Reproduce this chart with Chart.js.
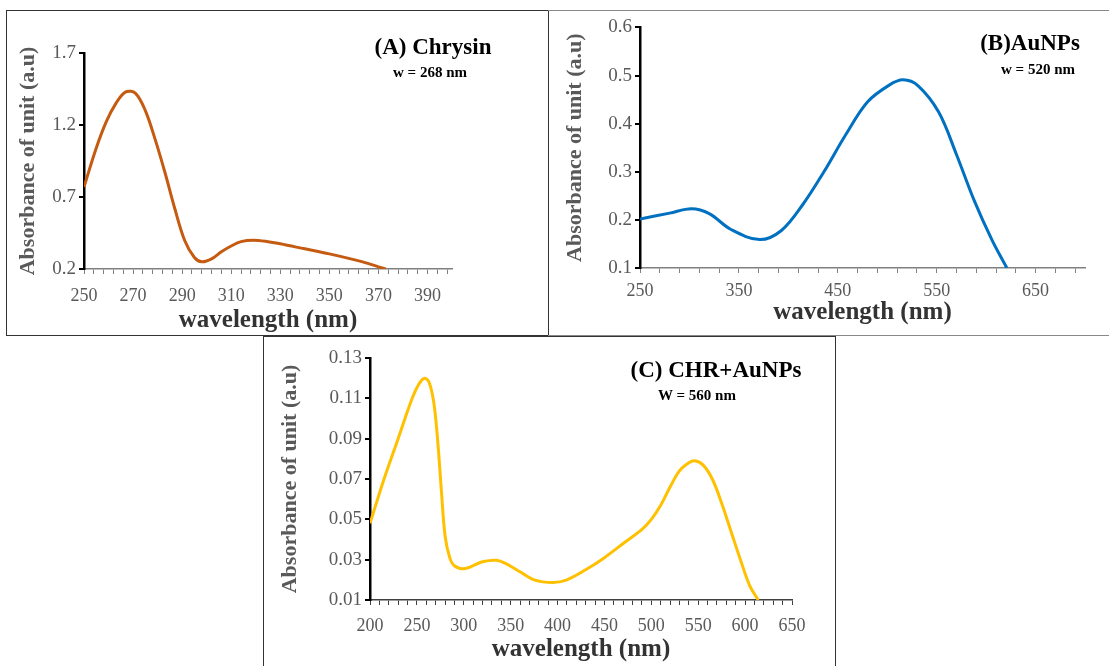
<!DOCTYPE html>
<html>
<head>
<meta charset="utf-8">
<script src="https://cdn.jsdelivr.net/npm/chart.js@4.4.1/dist/chart.umd.min.js"></script>
<style>
    body { margin: 0; background: #fff; width: 1109px; height: 666px; position: relative; overflow: hidden; font-family: 'Liberation Serif', 'Times New Roman', serif; }
    .box { position: absolute; box-sizing: border-box; }
    canvas { position: absolute; }
    .note { position: absolute; font-weight: bold; color: #000; white-space: nowrap; transform: translate(-50%, -50%); }
</style>
</head>
<body>
<div class="box" style="left:6px;top:10px;width:543px;height:326px;border:1.5px solid #333;"></div>
<div class="box" style="left:548px;top:10px;width:562px;height:326px;border:1.5px solid #888;border-left:none;"></div>
<div class="box" style="left:263px;top:336px;width:573px;height:340px;border:1.5px solid #333;"></div>

<canvas id="chartA" width="536" height="320" style="left:9px;top:13px;"></canvas>
<canvas id="chartB" width="555" height="320" style="left:550px;top:13px;"></canvas>
<canvas id="chartC" width="568" height="326" style="left:266px;top:339px;"></canvas>

<div class="note" style="left:433px;top:47px;font-size:23px;">(A) Chrysin</div>
<div class="note" style="left:430px;top:72px;font-size:15px;">w = 268 nm</div>
<div class="note" style="left:1030px;top:43px;font-size:23px;">(B)AuNPs</div>
<div class="note" style="left:1038px;top:69px;font-size:15px;">w = 520 nm</div>
<div class="note" style="left:716px;top:370px;font-size:23px;">(C) CHR+AuNPs</div>
<div class="note" style="left:697px;top:395px;font-size:15px;">W = 560 nm</div>

<script>
// (A) Chrysin
const wlA = [250, 255, 259, 263, 267, 271, 275, 279, 283, 287, 291, 295, 298, 302, 306, 310, 314, 319, 325, 330, 340, 350, 360, 366, 370, 373];
const absA = [0.77, 1.04, 1.22, 1.35, 1.43, 1.42, 1.30, 1.10, 0.87, 0.62, 0.40, 0.28, 0.25, 0.27, 0.32, 0.36, 0.39, 0.40, 0.39, 0.375, 0.34, 0.305, 0.265, 0.237, 0.215, 0.2];
const xLabelsA = [250, 270, 290, 310, 330, 350, 370, 390];
const yLabelsA = [0.2, 0.7, 1.2, 1.7];

// (B) AuNPs
const wlB = [250, 280, 302, 320, 342, 371, 393, 415, 436, 458, 480, 502, 516, 531, 552, 570, 588, 606, 621];
const absB = [0.202, 0.214, 0.223, 0.213, 0.18, 0.159, 0.178, 0.233, 0.30, 0.377, 0.445, 0.48, 0.491, 0.479, 0.424, 0.336, 0.24, 0.158, 0.1];
const xLabelsB = [250, 350, 450, 550, 650];
const yLabelsB = [0.1, 0.2, 0.3, 0.4, 0.5, 0.6];

// (C) CHR+AuNPs
const wlC = [200, 215, 230, 245, 252, 258, 263, 268, 272, 276, 280, 285, 290, 300, 310, 320, 335, 345, 360, 375, 395, 410, 430, 450, 470, 490, 500, 510, 520, 530, 540, 546, 555, 565, 575, 585, 595, 605, 614];
const absC = [0.048, 0.07, 0.09, 0.11, 0.117, 0.12, 0.118, 0.108, 0.09, 0.065, 0.042, 0.031, 0.027, 0.0255, 0.027, 0.029, 0.0297, 0.028, 0.024, 0.02, 0.0187, 0.02, 0.025, 0.031, 0.038, 0.045, 0.05, 0.057, 0.066, 0.074, 0.078, 0.079, 0.077, 0.07, 0.058, 0.044, 0.03, 0.017, 0.01];
const xLabelsC = [200, 250, 300, 350, 400, 450, 500, 550, 600, 650];
const yLabelsC = [0.01, 0.03, 0.05, 0.07, 0.09, 0.11, 0.13];

const fontFamily = "'Liberation Serif', 'Times New Roman', serif";
const labelGray = '#595959';

function buildChart(id, wl, abs, opt) {
    const xMinor = [];
    for (let v = opt.xMin; v <= opt.xMax + 1e-9; v += opt.xStep) {
        xMinor.push(v);
    }

    return new Chart(document.getElementById(id), {
        type: 'line',
        data: {
            datasets: [
                {
                    data: wl.map((x, i) => ({ x: x, y: abs[i] })),
                    borderColor: opt.color,
                    borderWidth: 3,
                    pointRadius: 0,
                    tension: 0.35,
                    fill: false,
                },
            ],
        },
        options: {
            responsive: false,
            animation: false,
            events: [],
            layout: { padding: opt.padding },
            plugins: { legend: { display: false }, tooltip: { enabled: false } },
            scales: {
                x: {
                    type: 'linear',
                    min: opt.xMin,
                    max: opt.xMax,
                    afterBuildTicks: (scale) => {
                        scale.ticks = xMinor.map((v) => ({ value: v }));
                    },
                    afterFit: (scale) => {
                        scale.height = opt.xHeight;
                    },
                    ticks: {
                        autoSkip: false,
                        maxRotation: 0,
                        padding: opt.xTickPad,
                        color: labelGray,
                        font: { family: fontFamily, size: 18 },
                        callback: (value) => {
                            const v = Math.round(value);
                            return opt.xLabels.includes(v) ? String(v) : '';
                        },
                    },
                    grid: { drawOnChartArea: false, tickLength: 5, color: opt.xAxisColor, lineWidth: 1 },
                    border: { color: opt.xAxisColor, width: 1.5 },
                    title: {
                        display: true,
                        text: 'wavelength (nm)',
                        color: '#333',
                        font: { family: fontFamily, size: 25, weight: 'bold', lineHeight: 1 },
                        padding: { top: 0, bottom: opt.xTitlePad },
                    },
                },
                y: {
                    min: opt.yLabels[0],
                    max: opt.yLabels[opt.yLabels.length - 1],
                    afterBuildTicks: (scale) => {
                        scale.ticks = opt.yLabels.map((v) => ({ value: v }));
                    },
                    afterFit: (scale) => {
                        scale.width = opt.yWidth;
                    },
                    ticks: {
                        padding: 3,
                        color: labelGray,
                        font: { family: fontFamily, size: 19 },
                        callback: (value) => Number(value).toFixed(opt.yDigits),
                    },
                    grid: { drawOnChartArea: false, tickLength: 5, color: '#000', lineWidth: 2 },
                    border: { color: '#000', width: 2.5 },
                    title: {
                        display: true,
                        text: 'Absorbance of unit (a.u)',
                        color: labelGray,
                        font: { family: fontFamily, size: 22, weight: 'bold', lineHeight: 1 },
                        padding: { top: opt.yTitlePad, bottom: 0 },
                    },
                },
            },
        },
    });
}

buildChart('chartA', wlA, absA, {
    color: '#C55A11',
    xMin: 250, xMax: 400, xStep: 4, xLabels: xLabelsA,
    yLabels: yLabelsA, yDigits: 1,
    padding: { left: 0, right: 93, top: 40, bottom: 0 },
    yWidth: 75, xHeight: 64, xTitlePad: 0, xTickPad: 11, yTitlePad: 8,
    xAxisColor: '#808080',
});

buildChart('chartB', wlB, absB, {
    color: '#0070C0',
    xMin: 250, xMax: 700, xStep: 20, xLabels: xLabelsB,
    yLabels: yLabelsB, yDigits: 1,
    padding: { left: 0, right: 20, top: 13, bottom: 0 },
    yWidth: 90, xHeight: 65, xTitlePad: 8, xTickPad: 7, yTitlePad: 14,
    xAxisColor: '#808080',
});

buildChart('chartC', wlC, absC, {
    color: '#FFC000',
    xMin: 200, xMax: 650, xStep: 10, xLabels: xLabelsC,
    yLabels: yLabelsC, yDigits: 2,
    padding: { left: 0, right: 42, top: 19, bottom: 0 },
    yWidth: 104, xHeight: 65, xTitlePad: 3, xTickPad: 10, yTitlePad: 13,
    xAxisColor: '#404040',
});
</script>
</body>
</html>
